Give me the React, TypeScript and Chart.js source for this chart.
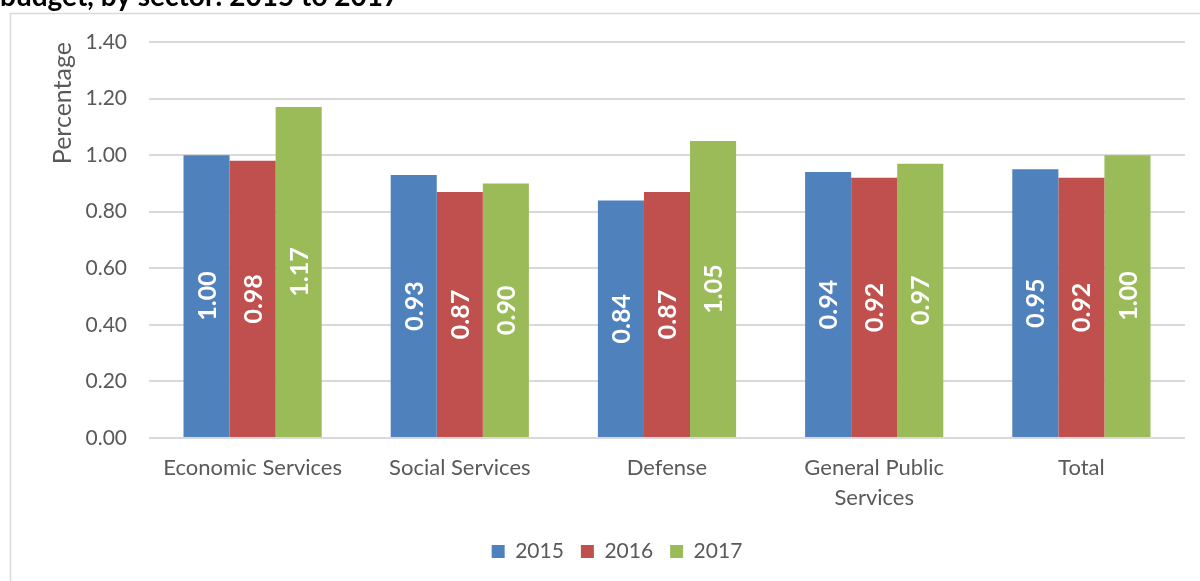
import React, { useEffect, useRef } from "react";
import { Chart, registerables } from "chart.js";

Chart.register(...registerables);

const titleText = "budget, by sector: 2015 to 2017";
const yAxisTitle = "Percentage";
const categories: (string | string[])[] = [
  "Economic Services",
  "Social Services",
  "Defense",
  ["General Public", "Services"],
  "Total",
];
const seriesNames = ["2015", "2016", "2017"];
const values2015 = [1.0, 0.93, 0.84, 0.94, 0.95];
const values2016 = [0.98, 0.87, 0.87, 0.92, 0.92];
const values2017 = [1.17, 0.9, 1.05, 0.97, 1.0];
const seriesColors = ["#4F81BD", "#C0504D", "#9BBB59"];
const yMin = 0;
const yMax = 1.4;
const yStep = 0.2;

const FONT = "Lato";
const TEXT_COLOR = "#595959";

const framePlugin = {
  id: "frameAndTitle",
  beforeDraw(chart: any) {
    const ctx = chart.ctx;
    ctx.save();
    ctx.fillStyle = "#ffffff";
    ctx.fillRect(0, 0, chart.width, chart.height);
    ctx.strokeStyle = "#D9D9D9";
    ctx.lineWidth = 1.5;
    ctx.strokeRect(10.5, 13.5, 1400, 800);
    ctx.fillStyle = "#000000";
    ctx.font = `bold 28px ${FONT}`;
    ctx.textAlign = "left";
    ctx.textBaseline = "alphabetic";
    ctx.fillText(titleText, 0, 6);
    ctx.restore();
  },
};

const dataLabelPlugin = {
  id: "barValueLabels",
  afterDatasetsDraw(chart: any) {
    const ctx = chart.ctx;
    chart.data.datasets.forEach((ds: any, i: number) => {
      const meta = chart.getDatasetMeta(i);
      meta.data.forEach((bar: any, j: number) => {
        const v = ds.data[j] as number;
        const cy = (bar.y + bar.base) / 2;
        ctx.save();
        ctx.translate(bar.x, cy);
        ctx.rotate(-Math.PI / 2);
        ctx.font = `bold 25px ${FONT}`;
        ctx.fillStyle = "#FFFFFF";
        ctx.textAlign = "center";
        ctx.textBaseline = "middle";
        ctx.fillText(v.toFixed(2), 0, 1);
        ctx.restore();
      });
    });
  },
};

export default function App() {
  const canvasRef = useRef<HTMLCanvasElement | null>(null);

  useEffect(() => {
    if (!canvasRef.current) return;
    const seriesValues = [values2015, values2016, values2017];
    const chart = new Chart(canvasRef.current, {
      type: "bar",
      data: {
        labels: categories,
        datasets: seriesNames.map((name, i) => ({
          label: name,
          data: seriesValues[i],
          backgroundColor: seriesColors[i],
          borderWidth: 0,
          barPercentage: 1,
          categoryPercentage: 0.667,
        })),
      },
      options: {
        responsive: false,
        animation: false,
        layout: { padding: { left: 49, right: 15, top: 42, bottom: 9 } },
        scales: {
          x: {
            grid: { display: false, drawTicks: false },
            border: { display: false },
            ticks: {
              padding: 15,
              color: TEXT_COLOR,
              font: { family: FONT, size: 22, lineHeight: 1.35 },
            },
            afterFit: (s: any) => {
              s.height = 86;
            },
          },
          y: {
            min: yMin,
            max: yMax,
            ticks: {
              stepSize: yStep,
              padding: 22,
              color: TEXT_COLOR,
              font: { family: FONT, size: 21 },
              callback: (v: any) => Number(v).toFixed(2),
            },
            grid: { color: "#D9D9D9", lineWidth: 2, drawTicks: false },
            border: { display: false },
            title: {
              display: true,
              text: yAxisTitle,
              align: "end",
              color: TEXT_COLOR,
              font: { family: FONT, size: 25, lineHeight: 1.1 },
              padding: { top: 0, bottom: 0 },
            },
            afterFit: (s: any) => {
              s.width = 100;
            },
          },
        },
        plugins: {
          legend: {
            position: "bottom",
            labels: {
              boxWidth: 13,
              boxHeight: 13,
              padding: 17,
              color: TEXT_COLOR,
              font: { family: FONT, size: 21 },
            },
          },
          tooltip: { enabled: false },
          title: { display: false },
        },
      },
      plugins: [framePlugin, dataLabelPlugin],
    } as any);
    return () => chart.destroy();
  }, []);

  return (
    <div style={{ position: "absolute", left: 0, top: 0, width: 1200, height: 581, background: "#fff" }}>
      <canvas ref={canvasRef} width={1200} height={581} style={{ display: "block" }} />
    </div>
  );
}
